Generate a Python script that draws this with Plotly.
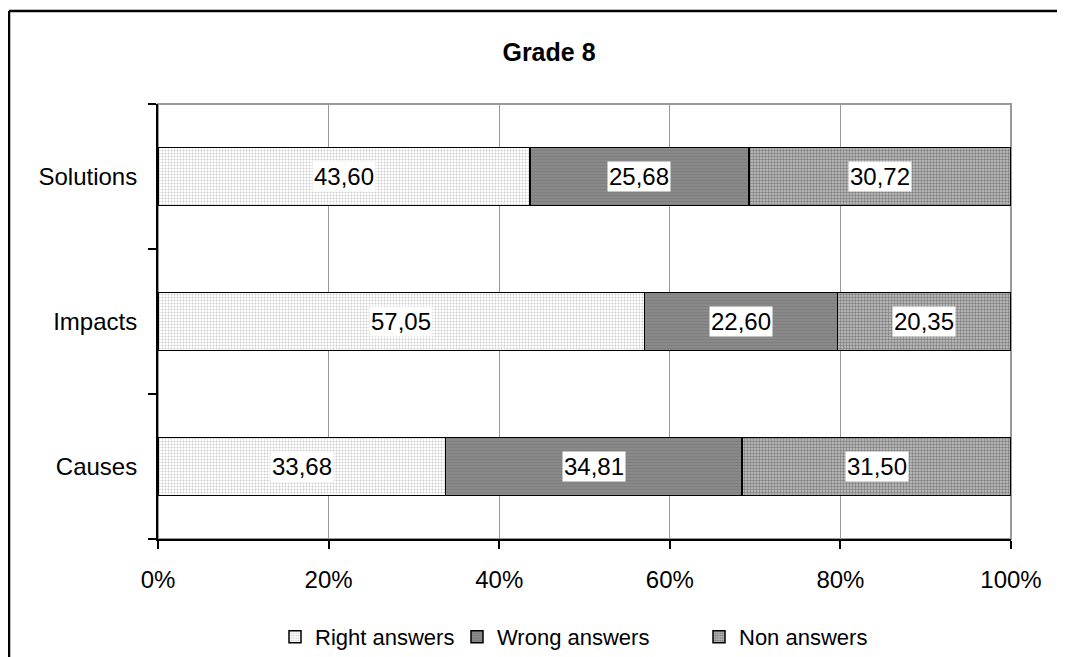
import plotly.graph_objects as go

categories = ["Causes", "Impacts", "Solutions"]
right_answers = [33.68, 57.05, 43.60]
wrong_answers = [34.81, 22.60, 25.68]
non_answers = [31.50, 20.35, 30.72]
series_names = ["Right answers", "Wrong answers", "Non answers"]
x_ticks = [0, 20, 40, 60, 80, 100]
x_tick_labels = ["0%", "20%", "40%", "60%", "80%", "100%"]

FONT = "Liberation Sans, Arial, sans-serif"

patterns = [
    dict(shape=".", fgcolor="#9a9a9a", bgcolor="#ffffff", size=3, solidity=0.35),
    dict(shape="-", fgcolor="#747474", bgcolor="#8a8a8a", size=3, solidity=0.4),
    dict(shape=".", fgcolor="#3c3c3c", bgcolor="#c4c4c4", size=3, solidity=0.5),
]
legend_refs = ["legend", "legend2", "legend3"]
legend_left_px = [267, 449, 691]

fig = go.Figure()
series = [right_answers, wrong_answers, non_answers]
for name, vals, pat, lg in zip(series_names, series, patterns, legend_refs):
    fig.add_trace(go.Bar(
        y=categories, x=vals, name=name, orientation="h",
        marker=dict(color=pat["bgcolor"], pattern=pat,
                    line=dict(color="#000000", width=1.5)),
        hoverinfo="x+name", legend=lg,
    ))

# value labels with white background, centered on each segment
annotations = []
for i, cat in enumerate(categories):
    start = 0.0
    for vals in series:
        v = vals[i]
        annotations.append(dict(
            x=start + v / 2, y=cat, xref="x", yref="y",
            text=f"{v:.2f}".replace(".", ","), showarrow=False,
            font=dict(family=FONT, size=24, color="#000000"),
            bgcolor="#ffffff", borderpad=1,
        ))
        start += v

def legend_at(px):
    return dict(orientation="h", x=(px - 150) / 853, xanchor="left",
                y=1 - 629 / 657, yref="container", yanchor="middle",
                font=dict(family=FONT, size=22), itemwidth=30,
                bgcolor="rgba(0,0,0,0)")

fig.update_layout(
    barmode="stack",
    bargap=0.6,
    width=1065, height=657,
    margin=dict(l=150, r=62, t=96, b=126),
    paper_bgcolor="#ffffff", plot_bgcolor="#ffffff",
    font=dict(family=FONT, size=24, color="#000000"),
    title=dict(text="<b>Grade 8</b>", x=(541 - 150) / 853, xref="paper", xanchor="center",
               y=1 - 44 / 657, yanchor="middle",
               font=dict(family=FONT, size=25, color="#000000")),
    showlegend=True,
    legend=legend_at(legend_left_px[0]),
    legend2=legend_at(legend_left_px[1]),
    legend3=legend_at(legend_left_px[2]),
    annotations=annotations,
    shapes=[
        # gray plot-area border
        dict(type="rect", xref="x domain", yref="y domain", x0=0, x1=1, y0=0, y1=1,
             line=dict(color="#999999", width=2), layer="below"),
        # outer chart frame (left and top)
        dict(type="line", xref="paper", yref="paper",
             x0=(1 - 150) / 853, x1=(1 - 150) / 853, y0=(531 - 3) / 435, y1=-0.4,
             line=dict(color="#000000", width=2.5)),
        dict(type="line", xref="paper", yref="paper",
             x0=(1 - 150) / 853, x1=1.2, y0=(531 - 3) / 435, y1=(531 - 3) / 435,
             line=dict(color="#000000", width=2.5)),
    ],
)

fig.update_xaxes(
    range=[0, 100], tickvals=x_ticks, ticktext=x_tick_labels,
    showgrid=True, gridcolor="#999999", gridwidth=1,
    showline=True, linecolor="#000000", linewidth=2,
    ticks="outside", ticklen=8, tickwidth=2, tickcolor="#000000",
    zeroline=False, tickfont=dict(family=FONT, size=24), ticklabelstandoff=10,
)
fig.update_yaxes(
    categoryorder="array", categoryarray=categories,
    showline=True, linecolor="#000000", linewidth=2,
    ticks="outside", ticklen=8, tickwidth=2, tickcolor="#000000",
    tickson="boundaries", showgrid=False,
    tickfont=dict(family=FONT, size=24), ticklabelstandoff=14,
)

fig.write_html("out.html")
